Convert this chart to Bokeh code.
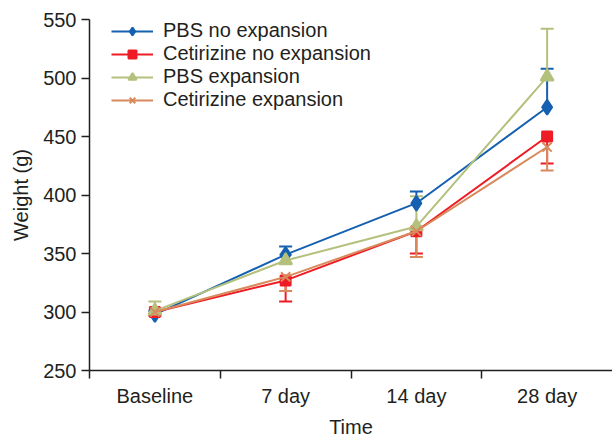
from bokeh.plotting import figure
from bokeh.models import FixedTicker, Range1d, Whisker, ColumnDataSource, TeeHead, Legend
from bokeh.embed import file_html
from bokeh.resources import INLINE

categories = ["Baseline", "7 day", "14 day", "28 day"]

pbs_no = [298, 349, 393, 475]
pbs_no_err = [3, 7, 10, 33]
cet_no = [300, 327, 369, 450]
cet_no_err = [3, 18, 19, 23]
pbs_exp = [301, 344, 373, 501]
pbs_exp_err = [8, 5, 26, 41]
cet_exp = [300, 330, 369, 441]
cet_exp_err = [3, 12, 22, 20]

FONT = "Liberation Sans"
TXT = "#231f20"

x = list(range(len(categories)))

p = figure(width=612, height=440, output_backend="svg", toolbar_location=None,
           x_range=Range1d(-0.5, 3.5), y_range=Range1d(250, 550),
           min_border_left=89, min_border_top=19, min_border_right=0, min_border_bottom=69)
p.outline_line_color = None
p.xgrid.visible = False
p.ygrid.visible = False

series = [
    ("PBS no expansion", pbs_no, pbs_no_err, "#1560b0", "diamond", 15, "up"),
    ("Cetirizine no expansion", cet_no, cet_no_err, "#ee1c25", "square", 10, "down"),
    ("PBS expansion", pbs_exp, pbs_exp_err, "#b3c17c", "triangle", 13, "up"),
    ("Cetirizine expansion", cet_exp, cet_exp_err, "#d98a5c", "x", 13, "down"),
]

for name, vals, errs, col, mk, sz, d in series:
    if d == "up":
        lo = vals
        hi = [v + e for v, e in zip(vals, errs)]
        src = ColumnDataSource(dict(x=x, lo=lo, hi=hi))
        w = Whisker(source=src, base="x", lower="lo", upper="hi", line_color=col, line_width=2,
                    upper_head=TeeHead(size=13, line_color=col, line_width=2), lower_head=None)
    else:
        lo = [v - e for v, e in zip(vals, errs)]
        hi = vals
        src = ColumnDataSource(dict(x=x, lo=lo, hi=hi))
        w = Whisker(source=src, base="x", lower="lo", upper="hi", line_color=col, line_width=2,
                    lower_head=TeeHead(size=13, line_color=col, line_width=2), upper_head=None)
    p.add_layout(w)

items = []
for name, vals, errs, col, mk, sz, d in series:
    r1 = p.line(x, vals, line_color=col, line_width=2)
    r2 = p.scatter(x, vals, marker=mk, size=sz, fill_color=col, line_color=col, line_width=2)
    items.append((name, [r1, r2]))

legend = Legend(items=items, location=(22, 259), border_line_color=None, background_fill_alpha=0,
                label_text_font=FONT, label_text_font_size="20px", label_text_color=TXT,
                glyph_width=42, glyph_height=20, label_height=20, label_standoff=10,
                spacing=0, padding=0, margin=0)
p.add_layout(legend)

p.xaxis.ticker = FixedTicker(ticks=x, minor_ticks=[i - 0.5 for i in x])
p.xaxis.major_label_overrides = {i: c for i, c in enumerate(categories)}
p.xaxis.major_tick_out = 0
p.xaxis.major_tick_in = 0
p.xaxis.minor_tick_out = 8
p.xaxis.minor_tick_in = 0
p.xaxis.axis_label = "Time"

p.yaxis.ticker = FixedTicker(ticks=[250, 300, 350, 400, 450, 500, 550])
p.yaxis.major_tick_out = 8
p.yaxis.major_tick_in = 0
p.yaxis.axis_label = "Weight (g)"

for ax in (p.xaxis[0], p.yaxis[0]):
    ax.axis_line_color = TXT
    ax.major_tick_line_color = TXT
    ax.axis_line_width = 1.5
    ax.major_tick_line_width = 1.5
    ax.minor_tick_line_width = 1.5
    ax.major_label_text_font = FONT
    ax.major_label_text_font_size = "20px"
    ax.major_label_text_color = TXT
    ax.axis_label_text_font = FONT
    ax.axis_label_text_font_size = "20px"
    ax.axis_label_text_color = TXT
    ax.axis_label_text_font_style = "normal"

p.xaxis.minor_tick_line_color = TXT
p.yaxis.minor_tick_line_color = None
p.xaxis.major_label_standoff = 6
p.xaxis.axis_label_standoff = 6
p.yaxis.major_label_standoff = 5
p.yaxis.axis_label_standoff = 8

open("out.html", "w").write(file_html(p, INLINE))
